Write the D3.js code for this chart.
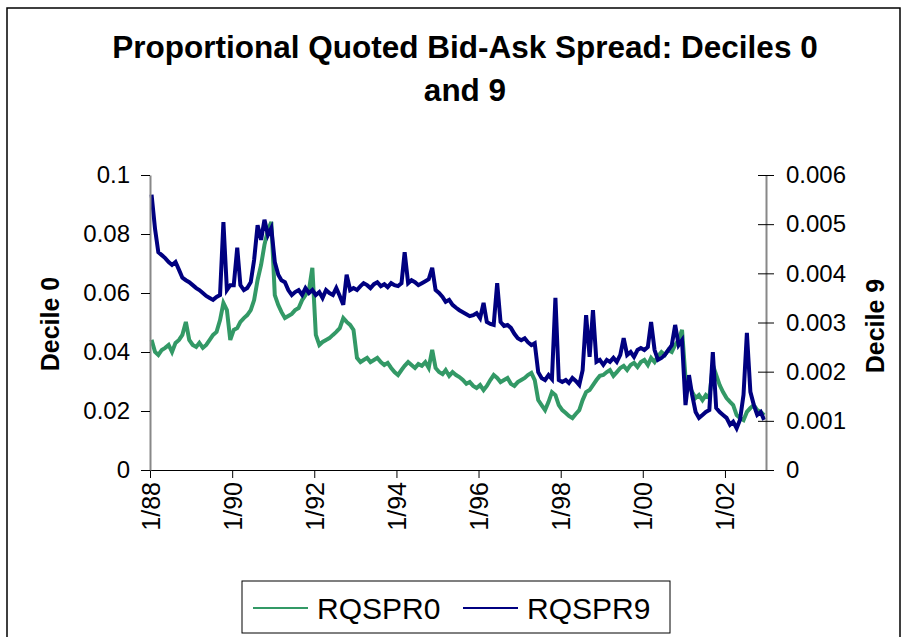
<!DOCTYPE html>
<html>
<head>
<meta charset="utf-8">
<script src="https://cdn.jsdelivr.net/npm/d3@7"></script>
<style>
  html, body { margin: 0; padding: 0; background: #fff; }
  svg { display: block; }
  text { font-family: "Liberation Sans", Arial, sans-serif; fill: #000; }
</style>
</head>
<body>
<script>
// ---- Data (monthly, Jan 1988 .. Dec 2002) ----
const startYear = 1988;
const seriesNames = ["RQSPR0", "RQSPR9"];
const rqspr0 = [
  0.0441, 0.0400, 0.0390, 0.0407, 0.0414, 0.0424, 0.0400, 0.0431, 0.0441, 0.0458, 0.0502, 0.0441,
  0.0424, 0.0417, 0.0431, 0.0414, 0.0424, 0.0441, 0.0458, 0.0468, 0.0508, 0.0566, 0.0542, 0.0441,
  0.0475, 0.0481, 0.0502, 0.0515, 0.0525, 0.0542, 0.0576, 0.0644, 0.0695, 0.0763, 0.0814, 0.0841,
  0.0593, 0.0559, 0.0536, 0.0515, 0.0522, 0.0529, 0.0542, 0.0549, 0.0576, 0.0593, 0.0610, 0.0685,
  0.0458, 0.0424, 0.0434, 0.0441, 0.0447, 0.0458, 0.0468, 0.0481, 0.0515, 0.0502, 0.0492, 0.0475,
  0.0380, 0.0366, 0.0373, 0.0380, 0.0366, 0.0373, 0.0380, 0.0366, 0.0356, 0.0363, 0.0346, 0.0332,
  0.0322, 0.0339, 0.0353, 0.0366, 0.0356, 0.0346, 0.0359, 0.0353, 0.0366, 0.0346, 0.0407, 0.0346,
  0.0332, 0.0325, 0.0339, 0.0319, 0.0332, 0.0322, 0.0315, 0.0305, 0.0292, 0.0298, 0.0285, 0.0278,
  0.0288, 0.0271, 0.0285, 0.0305, 0.0322, 0.0312, 0.0298, 0.0305, 0.0312, 0.0292, 0.0285, 0.0298,
  0.0305, 0.0312, 0.0322, 0.0329, 0.0305, 0.0237, 0.0220, 0.0203, 0.0231, 0.0264, 0.0254, 0.0220,
  0.0203, 0.0193, 0.0183, 0.0176, 0.0190, 0.0203, 0.0237, 0.0264, 0.0271, 0.0288, 0.0305, 0.0319,
  0.0322, 0.0332, 0.0339, 0.0319, 0.0332, 0.0346, 0.0353, 0.0339, 0.0356, 0.0363, 0.0349, 0.0366,
  0.0373, 0.0356, 0.0380, 0.0366, 0.0386, 0.0400, 0.0390, 0.0407, 0.0400, 0.0424, 0.0441, 0.0475,
  0.0312, 0.0288, 0.0264, 0.0244, 0.0254, 0.0237, 0.0254, 0.0244, 0.0356, 0.0322, 0.0288, 0.0264,
  0.0244, 0.0231, 0.0220, 0.0186, 0.0176, 0.0169, 0.0197, 0.0210, 0.0220, 0.0203, 0.0197, 0.0186
];
const rqspr9 = [
  0.00560, 0.00490, 0.00443, 0.00437, 0.00431, 0.00423, 0.00417, 0.00423, 0.00407, 0.00391, 0.00386, 0.00382,
  0.00376, 0.00370, 0.00366, 0.00360, 0.00354, 0.00350, 0.00346, 0.00352, 0.00356, 0.00504, 0.00366, 0.00376,
  0.00376, 0.00452, 0.00376, 0.00366, 0.00370, 0.00382, 0.00427, 0.00498, 0.00468, 0.00509, 0.00478, 0.00492,
  0.00423, 0.00397, 0.00386, 0.00382, 0.00366, 0.00356, 0.00362, 0.00366, 0.00356, 0.00370, 0.00360, 0.00366,
  0.00356, 0.00362, 0.00350, 0.00366, 0.00360, 0.00356, 0.00370, 0.00354, 0.00336, 0.00397, 0.00366, 0.00370,
  0.00366, 0.00374, 0.00380, 0.00376, 0.00370, 0.00378, 0.00382, 0.00374, 0.00378, 0.00372, 0.00380, 0.00376,
  0.00374, 0.00380, 0.00443, 0.00380, 0.00386, 0.00382, 0.00376, 0.00380, 0.00384, 0.00388, 0.00411, 0.00366,
  0.00360, 0.00352, 0.00342, 0.00346, 0.00336, 0.00330, 0.00325, 0.00321, 0.00317, 0.00313, 0.00315, 0.00319,
  0.00309, 0.00340, 0.00301, 0.00297, 0.00295, 0.00380, 0.00301, 0.00293, 0.00295, 0.00289, 0.00277, 0.00268,
  0.00264, 0.00268, 0.00260, 0.00254, 0.00258, 0.00199, 0.00187, 0.00183, 0.00193, 0.00185, 0.00350, 0.00183,
  0.00179, 0.00183, 0.00177, 0.00187, 0.00181, 0.00173, 0.00203, 0.00315, 0.00230, 0.00325, 0.00220, 0.00224,
  0.00214, 0.00224, 0.00220, 0.00228, 0.00220, 0.00234, 0.00268, 0.00234, 0.00240, 0.00230, 0.00244, 0.00248,
  0.00244, 0.00250, 0.00301, 0.00244, 0.00224, 0.00228, 0.00234, 0.00244, 0.00254, 0.00295, 0.00254, 0.00264,
  0.00132, 0.00193, 0.00153, 0.00118, 0.00106, 0.00112, 0.00118, 0.00122, 0.00240, 0.00126, 0.00118, 0.00112,
  0.00106, 0.00092, 0.00098, 0.00085, 0.00102, 0.00153, 0.00279, 0.00159, 0.00132, 0.00112, 0.00118, 0.00102
];
const xTickLabels = ["1/88", "1/90", "1/92", "1/94", "1/96", "1/98", "1/00", "1/02"];
const leftTicks = [0, 0.02, 0.04, 0.06, 0.08, 0.1];
const leftTickLabels = ["0", "0.02", "0.04", "0.06", "0.08", "0.1"];
const rightTicks = [0, 0.001, 0.002, 0.003, 0.004, 0.005, 0.006];
const rightTickLabels = ["0", "0.001", "0.002", "0.003", "0.004", "0.005", "0.006"];
const titleLines = ["Proportional Quoted Bid-Ask Spread: Deciles 0", "and 9"];
const leftAxisTitle = "Decile 0";
const rightAxisTitle = "Decile 9";

// ---- Layout ----
const W = 908, H = 637;
const plot = { left: 150, right: 766, top: 175, bottom: 470 };
const colors = { s0: "#339966", s9: "#000080" };
const font = '"Liberation Sans", Arial, sans-serif';

const svg = d3.select("body").append("svg").attr("width", W).attr("height", H);

// outer frame
svg.append("rect").attr("x", 7).attr("y", 8).attr("width", 893).attr("height", 650)
  .attr("fill", "none").attr("stroke", "#000").attr("stroke-width", 1.5);

// title
svg.append("text").attr("x", 465).attr("y", 58).attr("text-anchor", "middle")
  .attr("font-size", 31.5).attr("font-weight", "bold").text(titleLines[0]);
svg.append("text").attr("x", 465).attr("y", 101).attr("text-anchor", "middle")
  .attr("font-size", 31.5).attr("font-weight", "bold").text(titleLines[1]);

// scales
const x = d3.scaleTime()
  .domain([new Date(startYear, 0, 1), new Date(startYear + 15, 0, 1)])
  .range([plot.left, plot.right]);
const yL = d3.scaleLinear().domain([0, 0.1]).range([plot.bottom, plot.top]);
const yR = d3.scaleLinear().domain([0, 0.006]).range([plot.bottom, plot.top]);

const dates = rqspr0.map((_, i) => new Date(startYear, i, 15));

// lines
const line0 = d3.line().x((d, i) => x(dates[i])).y(d => yL(d));
const line9 = d3.line().x((d, i) => x(dates[i])).y(d => yR(d));
svg.append("path").datum(rqspr0).attr("d", line0).attr("fill", "none")
  .attr("stroke", colors.s0).attr("stroke-width", 4).attr("stroke-linejoin", "miter");
svg.append("path").datum(rqspr9).attr("d", line9).attr("fill", "none")
  .attr("stroke", colors.s9).attr("stroke-width", 4).attr("stroke-linejoin", "miter");

// x axis
const xTickDates = xTickLabels.map((_, i) => new Date(startYear + 2 * i, 0, 1));
const xAxis = d3.axisBottom(x).tickValues(xTickDates).tickSize(8).tickSizeOuter(0)
  .tickFormat((d, i) => xTickLabels[i]);
const gx = svg.append("g").attr("transform", `translate(0,${plot.bottom})`).call(xAxis);
gx.select(".domain").attr("stroke", "#000").attr("stroke-width", 1.2);
gx.selectAll(".tick line").attr("stroke", "#000").attr("stroke-width", 1);
gx.selectAll(".tick text")
  .attr("font-family", font).attr("font-size", 25)
  .attr("text-anchor", "end")
  .attr("transform", "rotate(-90)")
  .attr("x", -12).attr("y", 0).attr("dy", "0.36em");

// left axis
const yAxisL = d3.axisLeft(yL).tickValues(leftTicks).tickSize(9).tickSizeOuter(0)
  .tickFormat((d, i) => leftTickLabels[i]);
const gl = svg.append("g").attr("transform", `translate(${plot.left},0)`).call(yAxisL);
gl.select(".domain").attr("stroke", "#888").attr("stroke-width", 2);
gl.selectAll(".tick line").attr("stroke", "#000");
gl.selectAll(".tick text").attr("font-family", font).attr("font-size", 24).attr("x", -20);

// right axis
const yAxisR = d3.axisRight(yR).tickValues(rightTicks).tickSize(8).tickSizeOuter(0)
  .tickFormat((d, i) => rightTickLabels[i]);
const gr = svg.append("g").attr("transform", `translate(${plot.right},0)`).call(yAxisR);
gr.select(".domain").attr("stroke", "#888").attr("stroke-width", 2);
gr.selectAll(".tick line").attr("stroke", "#000").attr("x1", -8);
gr.selectAll(".tick text").attr("font-family", font).attr("font-size", 24).attr("x", 20);

// axis titles
svg.append("text").attr("transform", "translate(59,324) rotate(-90)")
  .attr("text-anchor", "middle").attr("font-size", 25).attr("font-weight", "bold")
  .text(leftAxisTitle);
svg.append("text").attr("transform", "translate(884,326) rotate(-90)")
  .attr("text-anchor", "middle").attr("font-size", 25).attr("font-weight", "bold")
  .text(rightAxisTitle);

// legend
const lg = svg.append("g");
lg.append("rect").attr("x", 242).attr("y", 581).attr("width", 428).attr("height", 52)
  .attr("fill", "#fff").attr("stroke", "#000").attr("stroke-width", 1);
const legendItems = [
  { name: seriesNames[0], color: colors.s0, x: 253 },
  { name: seriesNames[1], color: colors.s9, x: 463 }
];
legendItems.forEach(it => {
  lg.append("line").attr("x1", it.x).attr("x2", it.x + 55).attr("y1", 608).attr("y2", 608)
    .attr("stroke", it.color).attr("stroke-width", 2);
  lg.append("text").attr("x", it.x + 64).attr("y", 619).attr("font-size", 30).text(it.name);
});
</script>
</body>
</html>
